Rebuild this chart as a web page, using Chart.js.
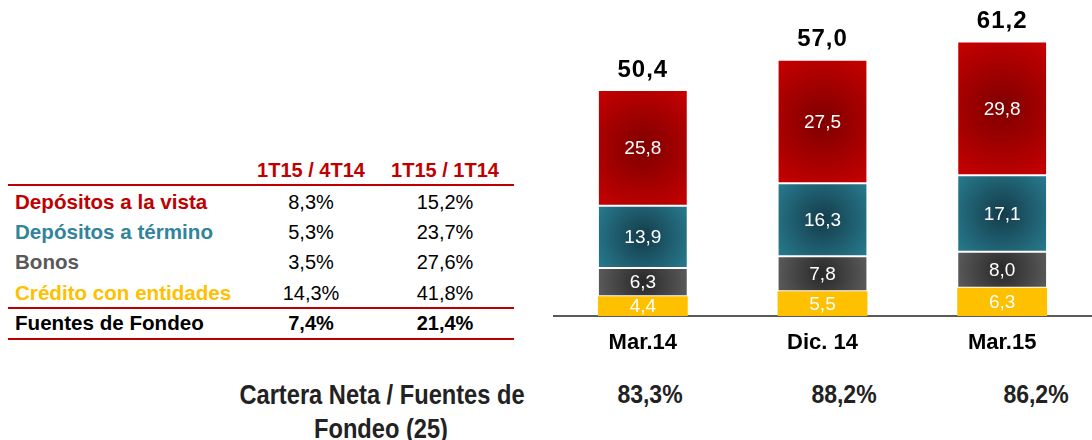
<!DOCTYPE html>
<html>
<head>
<meta charset="utf-8">
<script src="https://cdn.jsdelivr.net/npm/chart.js@4.4.1/dist/chart.umd.min.js"></script>
<style>
  html, body { margin:0; padding:0; background:#fff; }
  #wrap { position:relative; width:1092px; height:440px; overflow:hidden; font-family:'Liberation Sans', Arial, sans-serif; }
  .t { position:absolute; white-space:nowrap; line-height:1; }
  .hline { position:absolute; left:8px; width:506px; height:2px; background:#C00000; }
  #chartBox { position:absolute; left:553px; top:0; width:539px; height:366px; }
</style>
</head>
<body>
<div id="wrap">
  <div id="chartBox"><canvas id="c" width="539" height="366"></canvas></div>
</div>
<script>
// ---------- data ----------
const categories = ['Mar.14', 'Dic. 14', 'Mar.15'];
const seriesNames = ['Crédito con entidades', 'Bonos', 'Depósitos a término', 'Depósitos a la vista'];
const creditoEntidades = [4.4, 5.5, 6.3];
const bonos = [6.3, 7.8, 8.0];
const depositosTermino = [13.9, 16.3, 17.1];
const depositosVista = [25.8, 27.5, 29.8];
const totals = [50.4, 57.0, 61.2];
const carteraFuentes = [83.3, 88.2, 86.2];

const tableHeaders = ['1T15 / 4T14', '1T15 / 1T14'];
const tableRows = ['Depósitos a la vista', 'Depósitos a término', 'Bonos', 'Crédito con entidades'];
const growthQ = [8.3, 5.3, 3.5, 14.3];
const growthY = [15.2, 23.7, 27.6, 41.8];
const totalRowLabel = 'Fuentes de Fondeo';
const totalGrowth = [7.4, 21.4];
const ratioLabel = ['Cartera Neta / Fuentes de', 'Fondeo (25)'];

// ---------- styles ----------
const FONT = "'Liberation Sans', Arial, sans-serif";
const fmt = v => v.toFixed(1).replace('.', ',');
const rowColors = ['#C00000', '#31849B', '#595959', '#FFC000'];
const segStyles = [
  { base:'#FFC000', inner:'#FFC000', outer:'#FFC000', border:0 },
  { base:'#4d4d4d', inner:'#282828', outer:'#5c5c5c', border:1 },
  { base:'#226f82', inner:'#143c4a', outer:'#287c90', border:1 },
  { base:'#b00000', inner:'#7e0000', outer:'#C80000', border:1 }
];

// ---------- table (HTML text) ----------
const wrap = document.getElementById('wrap');
function addText(txt, x, y, css, align) {
  const d = document.createElement('div');
  d.className = 't';
  d.textContent = txt;
  Object.assign(d.style, css);
  d.style.left = x + 'px';
  d.style.top = y + 'px';
  d.style.transform = (align === 'center' ? 'translate(-50%,-50%)' : 'translate(0,-50%)') + (css.extra || '');
  wrap.appendChild(d);
  return d;
}
function addLine(y) {
  const l = document.createElement('div');
  l.className = 'hline';
  l.style.top = (y - 1) + 'px';
  wrap.appendChild(l);
}
const colX = [311, 445];
tableHeaders.forEach((h, i) => addText(h, colX[i], 170, { fontSize:'20px', fontWeight:'bold', color:'#C00000' }, 'center'));
addLine(185);
const rowY = [202, 232, 262, 293];
tableRows.forEach((r, i) => {
  addText(r, 15, rowY[i], { fontSize:'20.6px', fontWeight:'bold', color:rowColors[i] }, 'left');
  addText(fmt(growthQ[i]) + '%', colX[0], rowY[i], { fontSize:'20px', color:'#000' }, 'center');
  addText(fmt(growthY[i]) + '%', colX[1], rowY[i], { fontSize:'20px', color:'#000' }, 'center');
});
addLine(308);
addText(totalRowLabel, 15, 323, { fontSize:'20.6px', fontWeight:'bold', color:'#000' }, 'left');
totalGrowth.forEach((v, i) => addText(fmt(v) + '%', colX[i], 323, { fontSize:'20px', fontWeight:'bold', color:'#000' }, 'center'));
addLine(339);

// bottom ratio row
addText(ratioLabel[0], 382, 395, { fontSize:'24px', fontWeight:'bold', color:'#222', extra:' scaleX(0.985) scaleY(1.12)' }, 'center');
addText(ratioLabel[1], 381, 429, { fontSize:'24px', fontWeight:'bold', color:'#222', extra:' scaleX(0.985) scaleY(1.12)' }, 'center');
const ratioX = [650, 844, 1036];
carteraFuentes.forEach((v, i) => addText(fmt(v) + '%', ratioX[i], 395, { fontSize:'23px', fontWeight:'bold', color:'#222', extra:' scaleY(1.12)' }, 'center'));

// ---------- chart ----------
const seriesData = [creditoEntidades, bonos, depositosTermino, depositosVista];
const datasets = seriesData.map((d, i) => ({
  label: seriesNames[i],
  data: d,
  backgroundColor: () => segStyles[i].base,
  borderColor: '#ffffff',
  borderWidth: segStyles[i].border,
  borderSkipped: false,
  categoryPercentage: 1.0,
  barPercentage: 0.5
}));

const gradientPlugin = {
  id: 'grad',
  beforeDatasetsDraw(chart) {
    const ctx = chart.ctx;
    chart.data.datasets.forEach((ds, di) => {
      const meta = chart.getDatasetMeta(di);
      const st = segStyles[di];
      meta.data.forEach(el => {
        const p = el.getProps(['x', 'y', 'base', 'width'], true);
        const cy = (p.y + p.base) / 2;
        const h = Math.abs(p.base - p.y);
        const r = Math.sqrt(p.width * p.width + h * h) / 2;
        const g = ctx.createRadialGradient(p.x, cy, 0, p.x, cy, r);
        g.addColorStop(0, st.inner);
        g.addColorStop(1, st.outer);
        el.options.backgroundColor = g;
      });
    });
  }
};

const labelPlugin = {
  id: 'labels',
  afterDatasetsDraw(chart) {
    const ctx = chart.ctx;
    ctx.save();
    ctx.textAlign = 'center';
    ctx.textBaseline = 'middle';
    ctx.fillStyle = '#ffffff';
    ctx.font = '19px ' + FONT;
    chart.data.datasets.forEach((ds, di) => {
      const meta = chart.getDatasetMeta(di);
      meta.data.forEach((el, i) => {
        const p = el.getProps(['x', 'y', 'base'], true);
        ctx.fillText(fmt(ds.data[i]), p.x, (p.y + p.base) / 2 + 1);
      });
    });
    const topMeta = chart.getDatasetMeta(chart.data.datasets.length - 1);
    ctx.fillStyle = '#000';
    ctx.font = 'bold 24px ' + FONT;
    if ('letterSpacing' in ctx) ctx.letterSpacing = '1px';
    topMeta.data.forEach((el, i) => {
      const p = el.getProps(['x', 'y'], true);
      ctx.fillText(fmt(totals[i]), p.x, p.y - 20);
    });
    ctx.restore();
  }
};

new Chart(document.getElementById('c'), {
  type: 'bar',
  data: { labels: categories, datasets },
  options: {
    responsive: false,
    animation: false,
    layout: { padding: { top: 2, left: 0, right: 0, bottom: 0 } },
    plugins: { legend: { display: false }, tooltip: { enabled: false } },
    scales: {
      x: {
        stacked: true,
        grid: { display: false, drawTicks: false },
        border: { display: true, color: '#595959', width: 2 },
        ticks: { color: '#000', font: { family: FONT, size: 22, weight: 'bold' }, padding: 14 },
        afterFit: s => { s.height = 50; }
      },
      y: { stacked: true, display: false, min: 0, max: 70 }
    }
  },
  plugins: [gradientPlugin, labelPlugin]
});
</script>
</body>
</html>
